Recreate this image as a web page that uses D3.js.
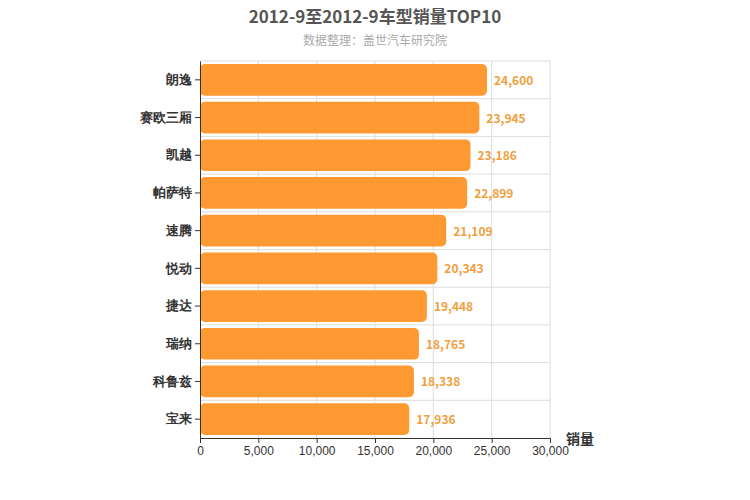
<!DOCTYPE html>
<html><head><meta charset="utf-8">
<script src="https://cdn.jsdelivr.net/npm/d3@7"></script>
<style>body{margin:0;background:#fff;font-family:"Noto Sans CJK SC","Noto Sans",sans-serif}</style>
</head><body><svg width="750" height="500"></svg>
<script>
var models = ['朗逸', '赛欧三厢', '凯越', '帕萨特', '速腾', '悦动', '捷达', '瑞纳', '科鲁兹', '宝来'];
var sales = [24600, 23945, 23186, 22899, 21109, 20343, 19448, 18765, 18338, 17936];
var ticks = [0, 5000, 10000, 15000, 20000, 25000, 30000];

var svg = d3.select('svg');
var pLeft = 200, pRight = 550, pTop = 61, pBottom = 438;
var x = d3.scaleLinear().domain([0, 30000]).range([pLeft, pRight]);
var y = d3.scaleBand().domain(models).range([pTop, pBottom]);

svg.append('text').attr('x', 375).attr('y', 23).attr('text-anchor', 'middle')
    .style('font-size', '17px').style('font-weight', 'bold').style('fill', '#555')
    .text('2012-9至2012-9车型销量TOP10');
svg.append('text').attr('x', 375).attr('y', 45).attr('text-anchor', 'middle')
    .style('font-size', '12px').style('fill', '#aaa').text('数据整理：盖世汽车研究院');

// grid
svg.append('g').selectAll('line').data(ticks.slice(1)).join('line')
    .attr('x1', d => x(d)).attr('x2', d => x(d)).attr('y1', pTop).attr('y2', pBottom)
    .attr('stroke', '#ddd');
svg.append('g').selectAll('line').data(models).join('line')
    .attr('x1', pLeft).attr('x2', pRight)
    .attr('y1', d => y(d)).attr('y2', d => y(d))
    .attr('stroke', '#ddd');

svg.append('g').selectAll('rect').data(models).join('rect')
    .attr('x', pLeft).attr('y', d => y(d) + 3)
    .attr('width', (d, i) => x(sales[i]) - pLeft).attr('height', y.bandwidth() - 6)
    .attr('rx', 5).attr('fill', '#ff9a33');

svg.append('g').selectAll('text').data(models).join('text')
    .attr('x', (d, i) => x(sales[i]) + 7).attr('y', d => y(d) + y.bandwidth() / 2 + 5)
    .style('font-size', '12px').style('font-weight', 'bold').style('fill', '#f0a040')
    .text((d, i) => d3.format(',')(sales[i]));

svg.append('g').attr('transform', 'translate(' + pLeft + ',0)')
    .call(d3.axisLeft(y).tickSize(5).tickSizeOuter(0))
    .call(g => g.selectAll('text').style('font-size', '13px').style('font-weight', 'bold').style('fill', '#333'))
    .call(g => g.selectAll('line,path').attr('stroke', '#333'));

svg.append('g').attr('transform', 'translate(0,' + pBottom + ')')
    .call(d3.axisBottom(x).tickValues(ticks).tickFormat(d3.format(',')).tickSize(5).tickSizeOuter(0))
    .call(g => g.selectAll('text').style('font-size', '12px').style('fill', '#333'))
    .call(g => g.selectAll('line,path').attr('stroke', '#333'));

svg.append('text').attr('x', 580).attr('y', 444).attr('text-anchor', 'middle')
    .style('font-size', '14px').style('font-weight', 'bold').style('fill', '#333').text('销量');
</script></body></html>
